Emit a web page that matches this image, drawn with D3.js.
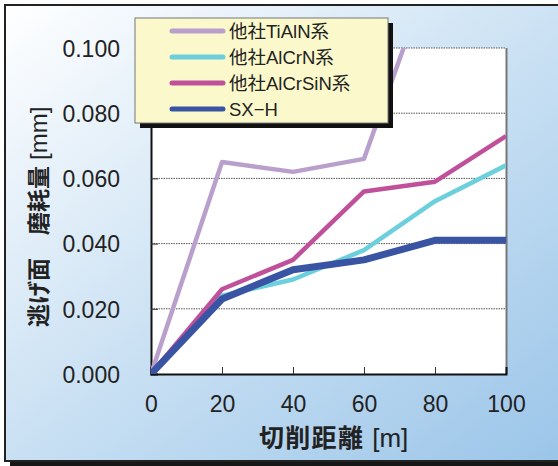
<!DOCTYPE html>
<html><head><meta charset="utf-8">
<script src="https://cdn.jsdelivr.net/npm/d3@7"></script>
<style>html,body{margin:0;padding:0;background:#fff;}svg{display:block;}</style>
</head><body>
<script>
const distances = [0, 20, 40, 60, 80, 100];
const seriesNames = ["他社TiAlN系", "他社AlCrN系", "他社AlCrSiN系", "SX−H"];
const tialn   = [0, 0.065, 0.062, 0.066, 0.127];
const alcrn   = [0, 0.024, 0.029, 0.038, 0.053, 0.064];
const alcrsin = [0, 0.026, 0.035, 0.056, 0.059, 0.073];
const sxh     = [0, 0.023, 0.032, 0.035, 0.041, 0.041];
const yTicks = [0, 0.02, 0.04, 0.06, 0.08, 0.1];
const xTicks = [0, 20, 40, 60, 80, 100];
const colors = ["#b9a0cc", "#6ccfdc", "#c0509a", "#3a54a4"];
const widths = [4.5, 4.5, 4.5, 7];

const W = 558, H = 466;
const svg = d3.select("body").append("svg").attr("width", W).attr("height", H);
const defs = svg.append("defs");
const grad = defs.append("linearGradient").attr("id","bg")
  .attr("x1","0%").attr("y1","0%").attr("x2","100%").attr("y2","100%");
grad.append("stop").attr("offset","0%").attr("stop-color","#ffffff");
grad.append("stop").attr("offset","50%").attr("stop-color","#c9e0f3");
grad.append("stop").attr("offset","100%").attr("stop-color","#97c3e8");

// frame shadow + frame
svg.append("rect").attr("x",10).attr("y",10).attr("width",600).attr("height",456).attr("fill","#161616");
svg.append("rect").attr("x",5).attr("y",5).attr("width",600).attr("height",456)
  .attr("fill","url(#bg)").attr("stroke","#222").attr("stroke-width",2);

const m = {left:151, right:506, top:48, bottom:374};
const x = d3.scaleLinear().domain([0,100]).range([m.left, m.right]);
const y = d3.scaleLinear().domain([0,0.1]).range([m.bottom, m.top]);

// plot area
svg.append("rect").attr("x",m.left).attr("y",m.top).attr("width",m.right-m.left).attr("height",m.bottom-m.top).attr("fill","#fff");
defs.append("clipPath").attr("id","clip").append("rect")
  .attr("x",m.left).attr("y",m.top).attr("width",m.right-m.left).attr("height",m.bottom-m.top);

// gridlines
svg.append("g").selectAll("line").data(yTicks.filter(d=>d>0)).join("line")
  .attr("x1",m.left).attr("x2",m.right).attr("y1",d=>y(d)).attr("y2",d=>y(d))
  .attr("stroke","#555").attr("stroke-width",1).attr("stroke-dasharray","1.5,1");

// right border
svg.append("line").attr("x1",m.right+0.5).attr("x2",m.right+0.5).attr("y1",m.top).attr("y2",m.bottom)
  .attr("stroke","#777").attr("stroke-width",2);

// axes
const xAxis = svg.append("g").attr("transform",`translate(0,${m.bottom})`)
  .call(d3.axisBottom(x).tickValues(xTicks).tickSize(-7).tickPadding(20).tickFormat(d3.format("d")));
const yAxis = svg.append("g").attr("transform",`translate(${m.left},0)`)
  .call(d3.axisLeft(y).tickValues(yTicks).tickSize(-7).tickPadding(31).tickFormat(d3.format(".3f")));
[xAxis,yAxis].forEach(a=>{
  a.select(".domain").attr("stroke","#111").attr("stroke-width",2);
  a.selectAll(".tick line").attr("stroke","#333");
  a.selectAll(".tick text").attr("font-family","Liberation Sans, Arial, sans-serif").attr("font-size",23).attr("fill","#222");
});
xAxis.selectAll(".tick line").filter(d=>d===0||d===100).remove();
yAxis.selectAll(".tick line").filter(d=>d===0||d===0.1).remove();
xAxis.selectAll(".tick text").attr("dy","0.35em").attr("y",30);
yAxis.selectAll(".tick text").attr("dy","0.36em");

// lines
const allSeries = [tialn, alcrn, alcrsin, sxh];
const line = d3.line().x((d,i)=>x(distances[i])).y(d=>y(d));
const lg = svg.append("g").attr("clip-path","url(#clip)");
allSeries.forEach((s,k)=>{
  lg.append("path").datum(s).attr("d",line).attr("fill","none")
    .attr("stroke",colors[k]).attr("stroke-width",widths[k]).attr("stroke-linejoin","round");
});

// legend
const L = {x:135, y:18, w:253, h:105};
svg.append("rect").attr("x",L.x+5).attr("y",L.y+5).attr("width",L.w).attr("height",L.h).attr("fill","#111");
svg.append("rect").attr("x",L.x).attr("y",L.y).attr("width",L.w).attr("height",L.h)
  .attr("fill","#fbf9cb").attr("stroke","#777").attr("stroke-width",1);
seriesNames.forEach((n,k)=>{
  const yy = 31 + k*26;
  svg.append("line").attr("x1",172).attr("x2",223).attr("y1",yy).attr("y2",yy)
    .attr("stroke",colors[k]).attr("stroke-width",5).attr("stroke-linecap","round");
  svg.append("text").attr("x",229).attr("y",yy).attr("dy","0.36em")
    .attr("font-family","Liberation Sans, 'Noto Sans CJK JP', sans-serif").attr("font-size",18.5).attr("fill","#222").text(n);
});

// axis titles
const xt = svg.append("text").attr("x",259).attr("y",441).attr("dy","0.36em")
  .attr("font-family","'Noto Sans CJK JP', sans-serif").attr("fill","#222");
xt.append("tspan").attr("font-weight","bold").attr("font-size",25).attr("letter-spacing",1.3).text("切削距離");
xt.append("tspan").attr("font-family","Liberation Sans, sans-serif").attr("font-size",26).attr("dx",8).text("[m]");

const yt = svg.append("text").attr("transform","translate(41.5,327) rotate(-90)").attr("dy","0.36em")
  .attr("font-family","'Noto Sans CJK JP', sans-serif").attr("fill","#222");
yt.append("tspan").attr("font-weight","bold").attr("font-size",23).text("逃げ面　磨耗量");
yt.append("tspan").attr("font-family","Liberation Sans, sans-serif").attr("font-size",24).attr("dx",6).text("[mm]");
</script>
</body></html>
